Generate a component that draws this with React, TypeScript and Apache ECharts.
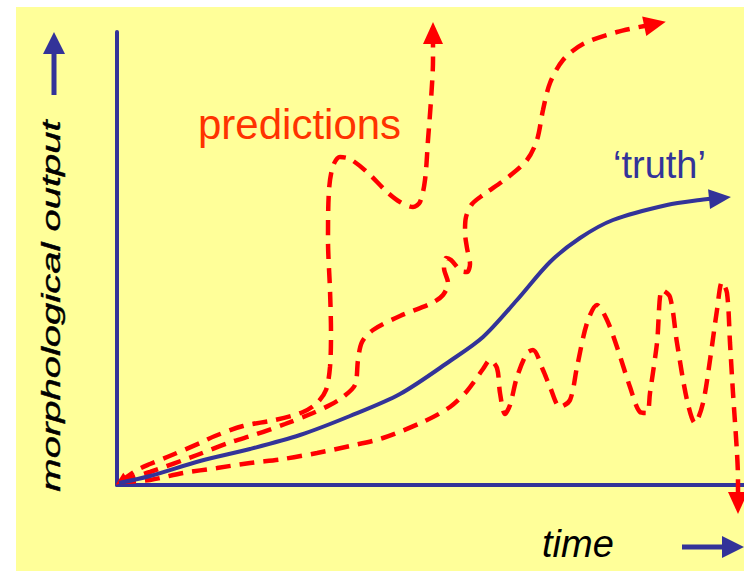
import React, { useEffect, useRef } from "react";
import * as echarts from "echarts";

// Chart units: time 0..627, output 0..453 (one unit per pixel of the reference)
const TIME_MAX = 627;
const OUTPUT_MAX = 453;

const truth: number[][] = [
  [2, 2], [33, 9], [83, 24], [133, 36], [183, 50], [233, 69], [283, 91], [333, 124],
  [366, 148], [400, 185], [433, 223], [463, 247], [496, 265], [550, 280], [583, 285], [603, 287],
];

const predictionSpike: number[][] = [
  [4, 4], [20, 15], [33, 21], [55, 30], [83, 42], [98, 49], [126, 59], [158, 65], [186, 73],
  [200, 82], [209, 95], [213, 118], [214, 152], [213, 195], [211, 245], [212, 295], [216, 319],
  [223, 328], [233, 326], [250, 313], [270, 293], [283, 283], [296, 278], [303, 283], [308, 305],
  [311, 345], [314, 385], [316, 425], [316, 452],
];

const predictionRise: number[][] = [
  [4, 4], [33, 13], [80, 30], [111, 42], [140, 51], [168, 61], [196, 72], [213, 80], [226, 88],
  [238, 100], [241, 125], [245, 143], [256, 155], [283, 169], [315, 182], [326, 190], [331, 202],
  [327, 217], [329, 227], [334, 225], [344, 214], [350, 213], [353, 221], [350, 237], [348, 253],
  [349, 268], [355, 281], [366, 290], [390, 307], [410, 325], [420, 345], [426, 375], [433, 402],
  [446, 425], [466, 441], [500, 453], [538, 461],
];

const predictionOscillating: number[][] = [
  [4, 3], [33, 5], [66, 12], [100, 17], [133, 22], [166, 26], [200, 32], [233, 39], [266, 47],
  [308, 64], [333, 78], [350, 94], [366, 116], [373, 125], [380, 117], [383, 92], [388, 71],
  [393, 80], [400, 108], [410, 132], [416, 135], [426, 115], [433, 98], [443, 78], [453, 85],
  [460, 118], [470, 162], [480, 180], [490, 165], [500, 138], [513, 98], [523, 73], [530, 72],
  [533, 92], [540, 142], [545, 195], [553, 188], [560, 142], [570, 85], [578, 62], [586, 82],
  [593, 125], [600, 175], [605, 203], [610, 192], [613, 142], [616, 92], [620, 32], [621, 5],
  [621, -18],
];

const yLabel = "morphological output";
const xLabel = "time";
const predLabel = "predictions";
const truthLabel = "\u2018truth\u2019";

const BLUE = "#333399";
const RED = "#FF0000";
const FONT = "Liberation Sans, Arial, sans-serif";

function rot(from: number[], to: number[]) {
  const a = (Math.atan2(to[1] - from[1], to[0] - from[0]) * 180) / Math.PI;
  return a - 90;
}

function withArrows(points: number[][], size: number[], startArrow?: number[]) {
  const n = points.length;
  return points.map((p, i) => {
    if (i === n - 1) {
      return { value: p, symbol: "triangle", symbolSize: size, symbolRotate: rot(points[n - 2], p) };
    }
    if (i === 0 && startArrow) {
      return { value: p, symbol: "triangle", symbolSize: startArrow, symbolRotate: rot(points[1], p) };
    }
    return { value: p };
  });
}

export default function App() {
  const ref = useRef<HTMLDivElement>(null);
  useEffect(() => {
    if (!ref.current) return;
    const chart = echarts.init(ref.current, null, { renderer: "svg" });
    const dashed = (name: string, pts: number[][], startArrow?: number[]) => ({
      name,
      type: "line",
      data: withArrows(pts, [20, 22], startArrow),
      smooth: 0.3,
      symbol: "none",
      showSymbol: true,
      clip: false,
      silent: true,
      lineStyle: { color: RED, width: 4.5, type: [15, 9], cap: "butt" },
      itemStyle: { color: RED, borderWidth: 0 },
      z: 2,
    });
    chart.setOption({
      animation: false,
      backgroundColor: "#ffffff",
      grid: { left: 117, right: 0, top: 32, bottom: 86 },
      xAxis: {
        type: "value",
        min: 0,
        max: TIME_MAX,
        axisLine: { show: true, onZero: false, lineStyle: { color: BLUE, width: 4 } },
        axisTick: { show: false },
        axisLabel: { show: false },
        splitLine: { show: false },
      },
      yAxis: {
        type: "value",
        min: 0,
        max: OUTPUT_MAX,
        axisLine: { show: true, onZero: false, lineStyle: { color: BLUE, width: 4 } },
        axisTick: { show: false },
        axisLabel: { show: false },
        splitLine: { show: false },
      },
      graphic: [
        { type: "rect", z: -10, silent: true, shape: { x: 16, y: 7, width: 728, height: 564 }, style: { fill: "#FFFF99" } },
        {
          type: "text", x: 51, y: 306, rotation: Math.PI / 2, scaleY: 0.64, silent: true,
          style: { text: yLabel, fontSize: 40, fontStyle: "italic", fontFamily: FONT, fill: "#000", align: "center", verticalAlign: "middle", stroke: "#000", lineWidth: 0.6 },
        },
        {
          type: "text", x: 542, y: 544, silent: true,
          style: { text: xLabel, fontSize: 38, fontStyle: "italic", fontFamily: FONT, fill: "#000", align: "left", verticalAlign: "middle" },
        },
        {
          type: "text", x: 198, y: 124, silent: true,
          style: { text: predLabel, fontSize: 42, fontFamily: FONT, fill: "#FF3300", align: "left", verticalAlign: "middle" },
        },
        {
          type: "text", x: 613, y: 165, silent: true,
          style: { text: truthLabel, fontSize: 38, fontFamily: FONT, fill: BLUE, align: "left", verticalAlign: "middle" },
        },
        { type: "line", silent: true, shape: { x1: 54, y1: 95, x2: 54, y2: 50 }, style: { stroke: BLUE, lineWidth: 5 } },
        { type: "polygon", silent: true, shape: { points: [[43, 54], [65, 54], [54, 32]] }, style: { fill: BLUE } },
        { type: "line", silent: true, shape: { x1: 682, y1: 547, x2: 725, y2: 547 }, style: { stroke: BLUE, lineWidth: 5 } },
        { type: "polygon", silent: true, shape: { points: [[722, 536], [722, 558], [744, 547]] }, style: { fill: BLUE } },
      ],
      series: [
        dashed("prediction 1", predictionSpike, [11, 13]),
        dashed("prediction 2", predictionRise),
        dashed("prediction 3", predictionOscillating),
        {
          name: "truth",
          type: "line",
          data: withArrows(truth, [20, 22]),
          smooth: 0.3,
          symbol: "none",
          showSymbol: true,
          clip: false,
          silent: true,
          lineStyle: { color: BLUE, width: 4 },
          itemStyle: { color: BLUE, borderWidth: 0 },
          z: 3,
        },
      ],
    });
    return () => chart.dispose();
  }, []);
  return <div ref={ref} style={{ position: "fixed", left: 0, top: 0, width: 744, height: 571 }} />;
}
